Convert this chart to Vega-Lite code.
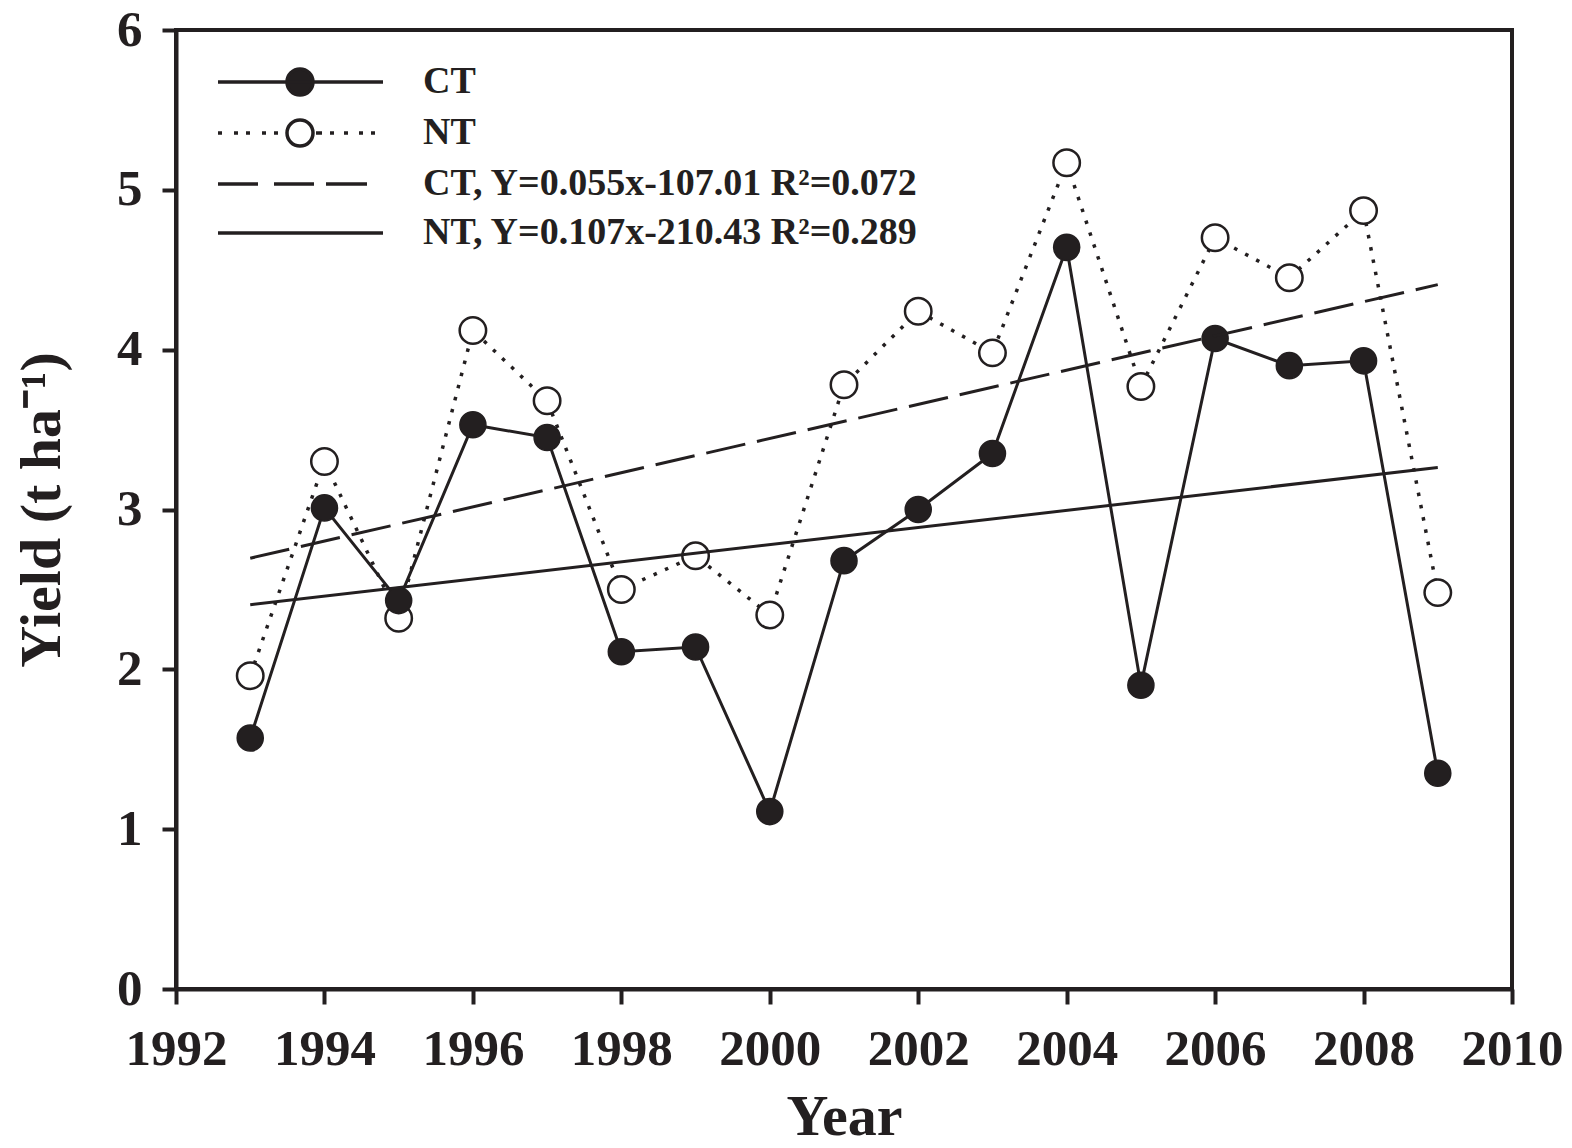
{
  "$schema": "https://vega.github.io/schema/vega-lite/v6.json",
  "width": 1336,
  "height": 959,
  "autosize": {"type": "none"},
  "padding": {"left": 176, "top": 30, "right": 60, "bottom": 159},
  "background": "white",
  "config": {
    "view": {"stroke": "#231f20", "strokeWidth": 4},
    "axis": {
      "grid": false,
      "domainColor": "#231f20",
      "domainWidth": 4,
      "tickColor": "#231f20",
      "tickWidth": 4,
      "labelFont": "Liberation Serif",
      "labelFontWeight": "bold",
      "labelFontSize": 51,
      "labelColor": "#231f20",
      "labelOverlap": false,
      "labelFlush": false,
      "titleFont": "Liberation Serif",
      "titleFontWeight": "bold",
      "titleFontSize": 58,
      "titleColor": "#231f20"
    }
  },
  "data": {
    "values": [
      {"Year": 1993, "Yield": 1.57, "Tillage": "CT"},
      {"Year": 1994, "Yield": 3.01, "Tillage": "CT"},
      {"Year": 1995, "Yield": 2.43, "Tillage": "CT"},
      {"Year": 1996, "Yield": 3.53, "Tillage": "CT"},
      {"Year": 1997, "Yield": 3.45, "Tillage": "CT"},
      {"Year": 1998, "Yield": 2.11, "Tillage": "CT"},
      {"Year": 1999, "Yield": 2.14, "Tillage": "CT"},
      {"Year": 2000, "Yield": 1.11, "Tillage": "CT"},
      {"Year": 2001, "Yield": 2.68, "Tillage": "CT"},
      {"Year": 2002, "Yield": 3.0, "Tillage": "CT"},
      {"Year": 2003, "Yield": 3.35, "Tillage": "CT"},
      {"Year": 2004, "Yield": 4.64, "Tillage": "CT"},
      {"Year": 2005, "Yield": 1.9, "Tillage": "CT"},
      {"Year": 2006, "Yield": 4.07, "Tillage": "CT"},
      {"Year": 2007, "Yield": 3.9, "Tillage": "CT"},
      {"Year": 2008, "Yield": 3.93, "Tillage": "CT"},
      {"Year": 2009, "Yield": 1.35, "Tillage": "CT"},
      {"Year": 1993, "Yield": 1.96, "Tillage": "NT"},
      {"Year": 1994, "Yield": 3.3, "Tillage": "NT"},
      {"Year": 1995, "Yield": 2.32, "Tillage": "NT"},
      {"Year": 1996, "Yield": 4.12, "Tillage": "NT"},
      {"Year": 1997, "Yield": 3.68, "Tillage": "NT"},
      {"Year": 1998, "Yield": 2.5, "Tillage": "NT"},
      {"Year": 1999, "Yield": 2.71, "Tillage": "NT"},
      {"Year": 2000, "Yield": 2.34, "Tillage": "NT"},
      {"Year": 2001, "Yield": 3.78, "Tillage": "NT"},
      {"Year": 2002, "Yield": 4.24, "Tillage": "NT"},
      {"Year": 2003, "Yield": 3.98, "Tillage": "NT"},
      {"Year": 2004, "Yield": 5.17, "Tillage": "NT"},
      {"Year": 2005, "Yield": 3.77, "Tillage": "NT"},
      {"Year": 2006, "Yield": 4.7, "Tillage": "NT"},
      {"Year": 2007, "Yield": 4.45, "Tillage": "NT"},
      {"Year": 2008, "Yield": 4.87, "Tillage": "NT"},
      {"Year": 2009, "Yield": 2.48, "Tillage": "NT"}
    ]
  },
  "encoding": {
    "x": {
      "field": "Year",
      "type": "quantitative",
      "scale": {"domain": [1992, 2010], "nice": false, "zero": false},
      "axis": {
        "title": "Year",
        "values": [1992, 1994, 1996, 1998, 2000, 2002, 2004, 2006, 2008, 2010],
        "format": "d",
        "tickSize": 15,
        "labelPadding": 20,
        "titlePadding": 14
      }
    },
    "y": {
      "field": "Yield",
      "type": "quantitative",
      "scale": {"domain": [0, 6], "nice": false},
      "axis": {
        "title": "Yield (t ha⁻¹)",
        "values": [0, 1, 2, 3, 4, 5, 6],
        "tickSize": 14,
        "labelPadding": 20,
        "titlePadding": 45
      }
    }
  },
  "layer": [
    {
      "transform": [{"filter": "datum.Tillage === 'NT'"}],
      "mark": {"type": "line", "stroke": "#231f20", "strokeWidth": 3.5, "strokeDash": [3.5, 9]},
      "encoding": {}
    },
    {
      "transform": [{"filter": "datum.Tillage === 'CT'"}],
      "mark": {"type": "line", "stroke": "#231f20", "strokeWidth": 3},
      "encoding": {}
    },
    {
      "transform": [{"filter": "datum.Tillage === 'NT'"}],
      "mark": {"type": "point", "shape": "circle", "size": 700, "filled": false, "fill": "white", "fillOpacity": 1, "stroke": "#231f20", "strokeWidth": 2.5, "opacity": 1},
      "encoding": {}
    },
    {
      "transform": [{"filter": "datum.Tillage === 'CT'"}],
      "mark": {"type": "point", "shape": "circle", "size": 680, "filled": true, "fill": "#231f20", "stroke": "#231f20", "strokeWidth": 1.5, "opacity": 1},
      "encoding": {}
    },
    {
      "transform": [
        {"filter": "datum.Tillage === 'NT'"},
        {"regression": "Yield", "on": "Year"}
      ],
      "mark": {"type": "line", "stroke": "#231f20", "strokeWidth": 3, "strokeDash": [40, 12]},
      "encoding": {}
    },
    {
      "transform": [
        {"filter": "datum.Tillage === 'CT'"},
        {"regression": "Yield", "on": "Year"}
      ],
      "mark": {"type": "line", "stroke": "#231f20", "strokeWidth": 3},
      "encoding": {}
    },
    {
      "transform": [{"filter": "false"}],
      "mark": {"type": "point", "strokeWidth": 3.5, "opacity": 1},
      "encoding": {
        "shape": {
          "field": "Tillage",
          "type": "nominal",
          "scale": {
            "domain": ["CT", "NT", "CT, Y=0.055x-107.01 R²=0.072", "NT, Y=0.107x-210.43 R²=0.289"],
            "range": [
              "M-1,0H7.25M3.75,0A0.65,0.65,0,1,1,2.45,0A0.65,0.65,0,1,1,3.75,0Z",
              "M-1,0H-0.8M-0.2,0H0M0.4,0H0.6M1.2,0H1.4M1.8,0H2M3.9,0H4.2M4.6,0H4.8M5.3,0H5.5M6.05,0H6.25M6.65,0H6.85M3.75,0A0.65,0.65,0,1,1,2.45,0A0.65,0.65,0,1,1,3.75,0Z",
              "M-1,0H1M1.8,0H3.8M4.4,0H6.45",
              "M-1,0H7.25"
            ]
          },
          "legend": {
            "title": null,
            "orient": "none",
            "legendX": 40,
            "legendY": 30,
            "padding": 0,
            "symbolSize": 1600,
            "symbolStrokeWidth": 3.5,
            "symbolStrokeColor": "#231f20",
            "rowPadding": 8,
            "labelOffset": 163,
            "labelLimit": 1000,
            "labelFont": "Liberation Serif",
            "labelFontWeight": "bold",
            "labelFontSize": 38,
            "labelColor": "#231f20"
          }
        },
        "fill": {
          "field": "Tillage",
          "type": "nominal",
          "scale": {
            "domain": ["CT", "NT", "CT, Y=0.055x-107.01 R²=0.072", "NT, Y=0.107x-210.43 R²=0.289"],
            "range": ["#231f20", "white", "transparent", "transparent"]
          }
        },
        "stroke": {
          "field": "Tillage",
          "type": "nominal",
          "scale": {
            "domain": ["CT", "NT", "CT, Y=0.055x-107.01 R²=0.072", "NT, Y=0.107x-210.43 R²=0.289"],
            "range": ["#231f20", "#231f20", "#231f20", "#231f20"]
          }
        }
      }
    }
  ]
}
